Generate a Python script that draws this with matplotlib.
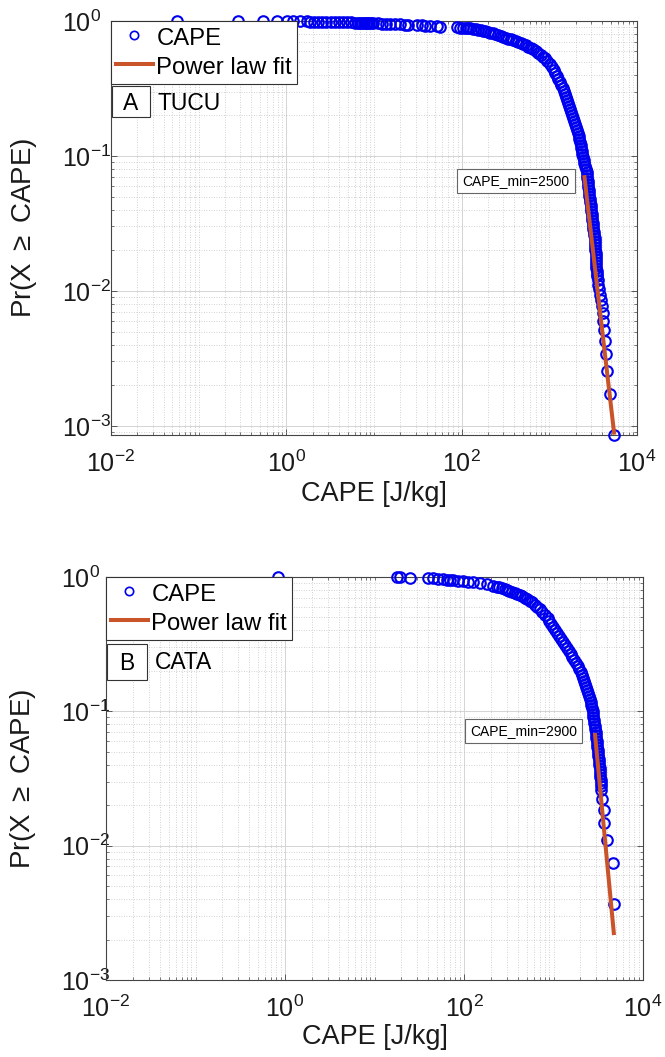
import numpy as np
import matplotlib
matplotlib.use("Agg")
import matplotlib.pyplot as plt
from matplotlib.patches import Rectangle
from matplotlib.lines import Line2D
from matplotlib.ticker import LogLocator, FixedLocator, NullFormatter

plt.rcParams['font.family'] = ['Liberation Sans', 'DejaVu Sans']
plt.rcParams['mathtext.fontset'] = 'custom'
plt.rcParams['mathtext.rm'] = 'Liberation Sans'
plt.rcParams['mathtext.it'] = 'Liberation Sans:italic'
plt.rcParams['mathtext.bf'] = 'Liberation Sans:bold'

# ---------------- data: panel A (TUCU) ----------------
tucu_cape = [
    0.057, 0.28, 0.54, 0.78, 1.02, 1.19, 1.43, 1.72, 1.87, 2.05,
    2.3, 2.55, 2.85, 3.2, 3.6, 4.0, 4.45, 4.95, 5.5, 6.05,
    6.6, 6.9, 7.3, 7.6, 8.0, 8.4, 8.8, 9.2, 9.7, 11.0,
    12.3, 13.6, 15.2, 17.3, 19.7, 22.5, 24.4, 30.9, 35.2, 38.0,
    43.4, 52.1, 56.4, 88.1, 96, 104, 111,
    118, 126, 135, 144, 153, 164, 175, 187, 200, 213,
    228, 243, 260, 278, 297, 317, 338, 361, 386, 412,
    440, 470, 502, 536, 573, 612, 653, 698, 745, 796,
    850, 889,
    947, 1008, 1073, 1125, 1170, 1217, 1266, 1317, 1369, 1424,
    1463, 1502, 1541, 1582, 1637, 1694, 1734, 1776, 1813, 1852,
    1901, 1951, 2003, 2056, 2105, 2155, 2207, 2248, 2277, 2314,
    2350, 2381, 2419, 2464, 2510, 2562, 2610, 2658, 2686, 2714,
    2736, 2765, 2787, 2816, 2846, 2868, 2898, 2921, 2952, 2975,
    3006, 3038, 3070, 3094, 3127, 3160, 3185, 3218, 3244, 3278,
    3303, 3321, 3330, 3347, 3365, 3382, 3400, 3418, 3427, 3445,
    3463, 3481,
    3517, 3564, 3620, 3665, 3763, 3863, 3966, 4072, 4126, 4234,
    4347, 4462, 4581, 4898, 5508]
tucu_prob = [
    1.0, 0.999, 0.998, 0.997, 0.996, 0.995, 0.994, 0.992, 0.991, 0.990,
    0.989, 0.987, 0.986, 0.984, 0.983, 0.981, 0.979, 0.977, 0.975, 0.973,
    0.971, 0.970, 0.969, 0.968, 0.967, 0.966, 0.965, 0.964, 0.962, 0.959,
    0.956, 0.953, 0.950, 0.947, 0.944, 0.940, 0.938, 0.932, 0.928, 0.925,
    0.920, 0.913, 0.910, 0.897, 0.894, 0.892, 0.890,
    0.887, 0.881, 0.874, 0.867, 0.862, 0.855, 0.848, 0.840, 0.830, 0.820,
    0.808, 0.797, 0.786, 0.773, 0.760, 0.750, 0.740, 0.730, 0.719, 0.707,
    0.695, 0.684, 0.672, 0.660, 0.646, 0.632, 0.616, 0.598, 0.580, 0.562,
    0.545, 0.532,
    0.5055, 0.4803, 0.4563, 0.4335, 0.4119, 0.3914, 0.3718, 0.3532, 0.3356, 0.3188,
    0.3029, 0.2878, 0.2735, 0.2599, 0.2469, 0.2346, 0.2229, 0.2118, 0.2012, 0.1912,
    0.1817, 0.1726, 0.1640, 0.1558, 0.1481, 0.1407, 0.1336, 0.1270, 0.1207, 0.1147,
    0.1089, 0.1035, 0.0983, 0.0934, 0.0887, 0.0843, 0.0801, 0.0761, 0.0723, 0.0687,
    0.0653, 0.0620, 0.0589, 0.0560, 0.0532, 0.0506, 0.0480, 0.0456, 0.0434, 0.0412,
    0.0391, 0.0372, 0.0353, 0.0336, 0.0319, 0.0303, 0.0288, 0.0274, 0.0260, 0.0247,
    0.0235, 0.0223, 0.0212, 0.0201, 0.0191, 0.0182, 0.0173, 0.0164, 0.0156, 0.0148,
    0.0141, 0.0134,
    0.0128, 0.0120, 0.0111, 0.0103, 0.0094, 0.00855, 0.00769, 0.00684, 0.00598, 0.00513,
    0.00427, 0.00342, 0.00256, 0.00171, 0.000855]
tucu_fit_cape = [2500, 5508]
tucu_fit_prob = [0.072, 0.00086]
tucu_cape_min = 2500
tucu_ylim = (0.000855, 1.0)

# ---------------- data: panel B (CATA) ----------------
cata_cape = [
    0.84, 17.8, 19.3, 24.9, 39.6, 45.1, 51.3, 58.3, 64.5, 69.8,
    75.4, 85.7, 97.5, 111, 126, 151, 181, 211,
    234, 249, 266, 284, 302, 322, 344, 367, 391, 417,
    445, 475, 506, 540, 576, 614, 655, 698,
    744, 804, 859, 900, 943, 987, 1042, 1100, 1161, 1223,
    1283, 1348, 1415, 1482, 1553, 1626, 1704, 1780, 1864, 1948,
    2018, 2076, 2141, 2203, 2266, 2319, 2373, 2429, 2486, 2538,
    2597, 2651, 2706, 2734, 2769, 2798, 2834, 2871, 2901, 2939,
    2968, 2992, 3015, 3031, 3046, 3062, 3102, 3134, 3175, 3208,
    3241, 3258, 3275, 3292, 3318, 3335, 3352, 3370, 3387,
    3395, 3484, 3700, 3667, 3963, 4624, 4743]
cata_prob = [
    1.0, 0.996, 0.993, 0.989, 0.980, 0.977, 0.970, 0.965, 0.955, 0.952,
    0.945, 0.940, 0.930, 0.925, 0.915, 0.905, 0.890, 0.860,
    0.842, 0.837, 0.831, 0.820, 0.806, 0.792, 0.779, 0.763, 0.747, 0.731,
    0.716, 0.699, 0.681, 0.664, 0.647, 0.624, 0.598, 0.573,
    0.549, 0.521, 0.495, 0.470, 0.447, 0.424, 0.403, 0.383, 0.364, 0.345,
    0.328, 0.312, 0.296, 0.281, 0.267, 0.254, 0.241, 0.229, 0.2175, 0.2065,
    0.196, 0.186, 0.177, 0.168, 0.160, 0.152, 0.144, 0.137, 0.130, 0.1235,
    0.1173, 0.1114, 0.1058, 0.1005, 0.0954, 0.0907, 0.0861, 0.0818, 0.0777, 0.0738,
    0.0701, 0.0666, 0.0633, 0.0601, 0.0571, 0.0542, 0.0515, 0.0489, 0.0465, 0.0441,
    0.0419, 0.0398, 0.0378, 0.0359, 0.0341, 0.0324, 0.0308, 0.0292, 0.0278,
    0.0259, 0.0222, 0.0185, 0.0148, 0.0111, 0.0074, 0.0037]
cata_fit_cape = [2900, 4743]
cata_fit_prob = [0.069, 0.00216]
cata_cape_min = 2900
cata_ylim = (0.001, 1.0)

x_ticks = [1e-2, 1e0, 1e2, 1e4]
y_ticks = [1e-3, 1e-2, 1e-1, 1e0]
legend_labels = ['CAPE', 'Power law fit']
x_label = 'CAPE [J/kg]'
y_label = 'Pr(X $\\geq$ CAPE)'

BLUE = '#0000F0'
FIT = '#C9542A'
SPINE = '#454545'

fig = plt.figure(figsize=(6.65, 10.57), dpi=100)


def panel(rect, cape, prob, fit_cape, fit_prob, cape_min, ylim, letter, site,
          ann_xy, letter_box, site_xy, ytick_pad, xlab_y, ylab_x):
    ax = fig.add_axes(rect)
    ax.set_xscale('log')
    ax.set_yscale('log')
    ax.set_xlim(1e-2, 1e4)
    ax.set_ylim(*ylim)
    ax.xaxis.set_major_locator(FixedLocator(x_ticks))
    ax.yaxis.set_major_locator(FixedLocator(y_ticks))
    ax.xaxis.set_minor_locator(LogLocator(base=10, subs=np.arange(1, 10), numticks=30))
    ax.yaxis.set_minor_locator(LogLocator(base=10, subs=np.arange(2, 10), numticks=30))
    ax.xaxis.set_minor_formatter(NullFormatter())
    ax.yaxis.set_minor_formatter(NullFormatter())
    ax.grid(which='major', color='#d4d4d4', lw=0.7, ls='-')
    ax.grid(which='minor', color='#c4c4c4', lw=0.6, ls=(0, (1, 2)))
    ax.set_axisbelow(True)
    for s in ax.spines.values():
        s.set_color(SPINE)
        s.set_linewidth(0.8)
    ax.tick_params(which='both', direction='in', top=True, right=True,
                   color=SPINE, labelsize=18, labelcolor='#1a1a1a')
    ax.tick_params(which='major', length=4, width=0.6)
    ax.tick_params(which='minor', length=2.5, width=0.5)
    ax.tick_params(axis='x', which='major', pad=11)
    ax.tick_params(axis='y', which='major', pad=ytick_pad)
    for lab in ax.get_yticklabels():
        lab.set_horizontalalignment('left')

    ax.plot(cape, prob, 'o', ls='none', mfc='none', mec=BLUE, ms=7.6, mew=1.5,
            clip_on=False, zorder=3)
    ax.plot(fit_cape, fit_prob, '-', color=FIT, lw=2.9, zorder=4, solid_capstyle='butt')

    handles = [Line2D([], [], ls='none', marker='o', mfc='none', mec=BLUE, ms=6, mew=1.2),
               Line2D([], [], color=FIT, lw=2.9)]
    leg = ax.legend(handles, legend_labels, loc='upper left', bbox_to_anchor=(0, 1),
                    borderaxespad=0, fontsize=17.2, frameon=True, fancybox=False,
                    edgecolor='#333333', framealpha=1, handlelength=1.55,
                    handleheight=1.05, handletextpad=0.15, borderpad=0.2,
                    labelspacing=0.2)
    leg.get_frame().set_linewidth(0.8)
    leg.set_zorder(10)

    ax.text(ann_xy[0], ann_xy[1], 'CAPE_min=%d' % cape_min, transform=ax.transAxes,
            fontsize=10, ha='center', va='center', zorder=6,
            bbox=dict(boxstyle='square,pad=0.38', fc='white', ec='#666666', lw=0.8))

    x0, y0, w, h = letter_box
    ax.add_patch(Rectangle((x0, y0), w, h, transform=ax.transAxes, fc='white',
                           ec='#333333', lw=0.8, zorder=9, clip_on=False))
    ax.text(x0 + w / 2, y0 + h / 2 - 0.004, letter, transform=ax.transAxes, fontsize=16.5,
            ha='center', va='center', zorder=11)
    ax.text(site_xy[0], site_xy[1], site, transform=ax.transAxes, fontsize=16.5,
            ha='left', va='center', zorder=11)

    ax.set_xlabel(x_label, fontsize=19.5, color='#1a1a1a')
    ax.xaxis.label.set_va('center')
    ax.xaxis.set_label_coords(0.5, xlab_y)
    ax.set_ylabel(y_label, fontsize=20, color='#1a1a1a')
    ax.yaxis.label.set_va('center')
    ax.yaxis.set_label_coords(ylab_x, 0.5)
    return ax


# panel A: pixel box x 111-637, y 21-435
panel([111 / 665, 1 - 435 / 1057, 526 / 665, 414 / 1057],
      tucu_cape, tucu_prob, tucu_fit_cape, tucu_fit_prob, tucu_cape_min, tucu_ylim,
      'A', 'TUCU', (0.770, 0.6135), (0.002, 0.768, 0.072, 0.075), (0.0875, 0.80),
      35, -0.142, -0.165)

# panel B: pixel box x 106-643, y 577-980
panel([106 / 665, 1 - 980 / 1057, 537 / 665, 403 / 1057],
      cata_cape, cata_prob, cata_fit_cape, cata_fit_prob, cata_cape_min, cata_ylim,
      'B', 'CATA', (0.7775, 0.618), (0.002, 0.745, 0.074, 0.089), (0.091, 0.789),
      32.5, -0.142, -0.155)

fig.savefig('out.png', dpi=100)
